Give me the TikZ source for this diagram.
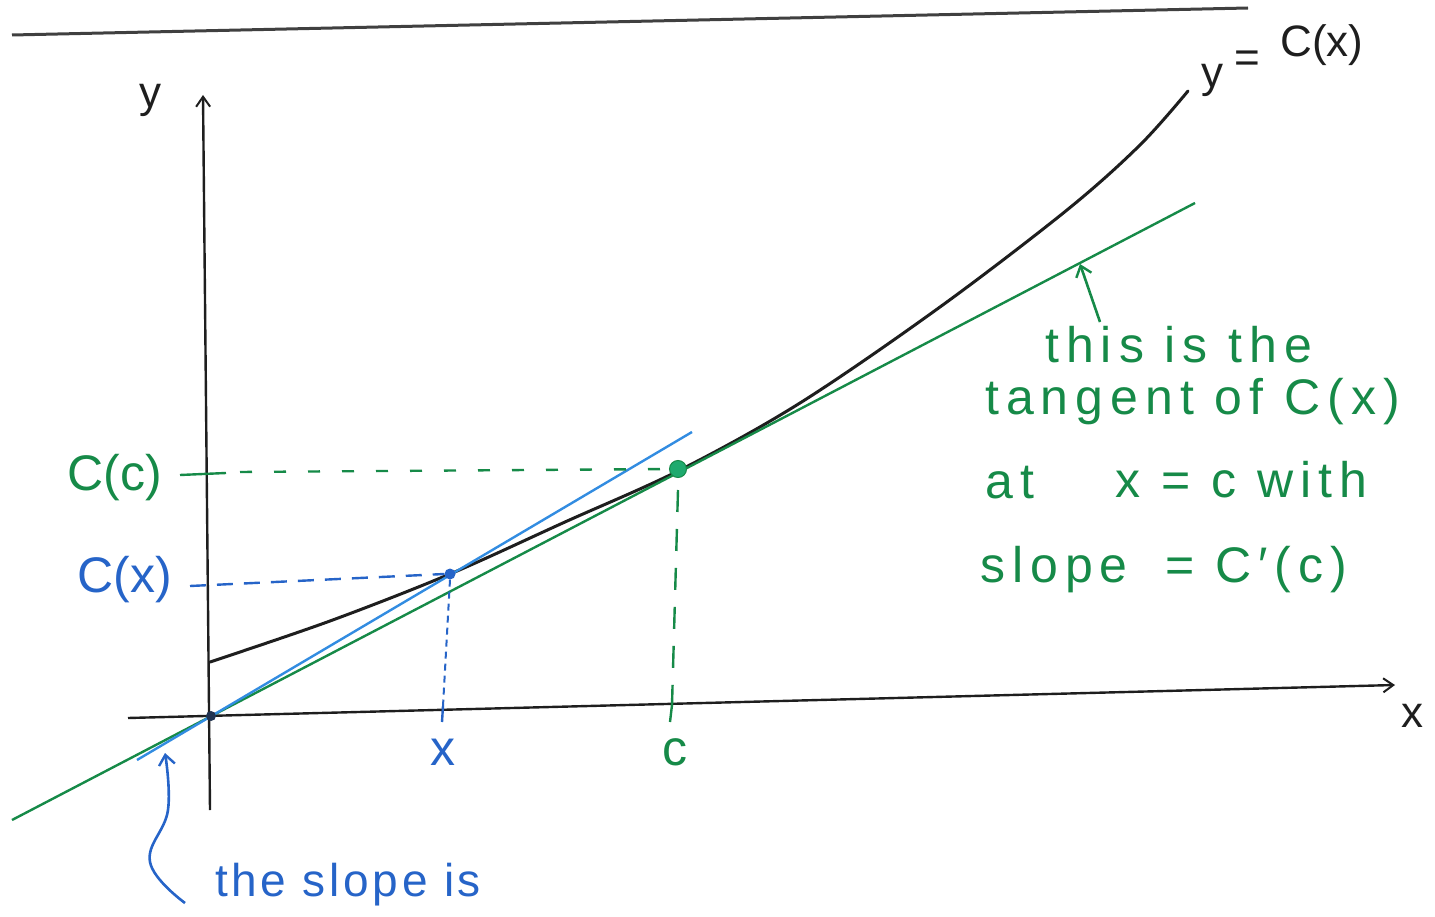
\documentclass[tikz,border=0pt]{standalone}
\usepackage{fontspec}
\setmainfont{Liberation Sans}
\newfontfamily\wideg[LetterSpace=14]{Liberation Sans}
\newfontfamily\wideb[LetterSpace=8]{Liberation Sans}
\usetikzlibrary{arrows.meta}
\definecolor{mgreen}{RGB}{22,138,72}
\definecolor{mteal}{RGB}{30,170,110}
\definecolor{mblue}{RGB}{38,100,200}
\definecolor{lblue}{RGB}{50,140,225}
\definecolor{ink}{RGB}{30,30,30}
\begin{document}
\begin{tikzpicture}[x=1pt,y=-1pt,
  lab/.style={inner sep=0pt,font=\fontsize{44}{50}\selectfont},
  biglab/.style={inner sep=0pt,font=\fontsize{50}{56}\selectfont},
  gtext/.style={inner sep=0pt,anchor=west,text=mgreen,font=\wideg\fontsize{50}{56}\selectfont},
  btext/.style={inner sep=0pt,anchor=west,text=mblue,font=\wideb\fontsize{46}{52}\selectfont},
  axis/.style={draw=ink,line width=2.4pt,-{Straight Barb[length=10pt,width=14pt,line width=2pt]}},
  curve/.style={draw=ink,line width=3pt,line cap=round},
  gline/.style={draw=mgreen,line width=2.4pt},
  bline/.style={draw=lblue,line width=2.4pt},
  gdash/.style={draw=mgreen,line width=2.4pt,dash pattern=on 12pt off 22pt},
  bdash/.style={draw=mblue,line width=2.4pt,dash pattern=on 16pt off 11pt},
  barrow/.style={line width=2.6pt,-{Straight Barb[length=10pt,width=16pt,line width=2.4pt]}}]
\useasboundingbox (0,0) rectangle (1435,917);
% top rule
\coordinate (r1) at (12,35);
\coordinate (r2) at (1248,8);
\draw[draw=ink!85,line width=3pt] (r1) -- (r2);
% axes
\coordinate (ya) at (210,810);
\coordinate (yb) at (203,95);
\coordinate (xa) at (128,718);
\coordinate (xb) at (1395,685);
\draw[axis] (ya) -- (yb);
\draw[axis] (xa) -- (xb);
\node[lab,text=ink] (ylab) at (150,100) {y};
\node[lab,text=ink] (xlab) at (1412,716) {x};
% curve
\draw[curve] plot[smooth,tension=0.55] coordinates {(210,662) (330,621) (450,574) (565,522) (680,470) (800,403) (940,307) (1067,210) (1140,145) (1188,91)};
\node[lab,text=ink] (ly) at (1212,80) {y};
\node[lab,text=ink] (leq) at (1247,62) {=};
\node[lab,text=ink] (lcxx) at (1322,45) {C(x)};
% green tangent
\coordinate (gA) at (12,820);
\coordinate (gB) at (1195,203);
\draw[gline] (gA) -- (gB);
% blue secant
\coordinate (bA) at (137,760);
\coordinate (bB) at (692,432);
\draw[bline] (bA) -- (bB);
% points
\node[circle,fill=mteal,draw=mgreen,line width=1pt,minimum size=17pt,inner sep=0pt] (P) at (678,469) {};
\node[circle,fill=mblue,minimum size=11pt,inner sep=0pt] (Q) at (450,574) {};
\node[circle,fill=ink!70!mblue,minimum size=10pt,inner sep=0pt] (O) at (211,716) {};
% C(c) guides
\node[biglab,text=mgreen] (lcc) at (115,478) {C(c)};
\coordinate (cc1) at (180,475);
\coordinate (cc2) at (226,473);
\coordinate (cc3) at (240,472);
\draw[gline] (cc1) -- (cc2);
\draw[gdash] (cc3) -- (P.west);
\coordinate (cv1) at (672,705);
\coordinate (cv2) at (670,722);
\draw[draw=mgreen,line width=2.4pt,dash pattern=on 22pt off 17pt] (P.south) ++(0,12) -- (cv1);
\draw[gline] (cv1) -- (cv2);
\node[biglab,text=mgreen] (lc) at (675,752) {c};
% C(x) guides
\node[biglab,text=mblue] (lcx) at (125,580) {C(x)};
\coordinate (cx1) at (190,586);
\draw[bdash] (cx1) -- (Q.west);
\coordinate (xv1) at (443,706);
\coordinate (xv2) at (442,722);
\draw[draw=mblue,line width=2pt,dash pattern=on 7pt off 5pt] (Q.south) -- (xv1);
\draw[draw=mblue,line width=2.4pt] (xv1) -- (xv2);
\node[biglab,text=mblue] (lx) at (443,752) {x};
% green annotation
\coordinate (ga1) at (1100,322);
\coordinate (ga2) at (1080,264);
\draw[barrow,draw=mgreen] (ga1) -- (ga2);
\node[gtext] (t1) at (1045,345) {this is the};
\node[gtext] (t2) at (985,402) {tangent of C(x)};
\node[gtext] (t3a) at (985,483) {at};
\node[gtext] (t3b) at (1115,480) {x = c with};
\node[gtext] (t4a) at (980,570) {slope};
\node[gtext] (t4b) at (1165,570) {= C′(c)};
% blue annotation
\coordinate (ba1) at (185,903);
\coordinate (ba2) at (165,753);
\draw[barrow,draw=mblue] plot[smooth,tension=0.7] coordinates {(ba1) (150,862) (168,810) (ba2)};
\node[btext] (s1) at (215,885) {the slope is};
\end{tikzpicture}
\end{document}
